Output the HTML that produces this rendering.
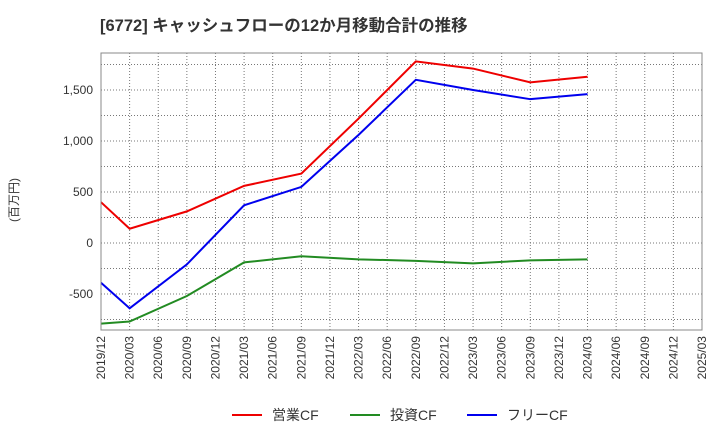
<!DOCTYPE html>
<html><head><meta charset="utf-8"><style>
body{margin:0;background:#fff;}
svg text{font-family:"Liberation Sans","Noto Sans CJK JP",sans-serif;}
</style></head><body>
<svg width="720" height="440" xmlns="http://www.w3.org/2000/svg">
<text x="100" y="31" font-size="16.5" font-weight="bold" fill="#333">[6772]  キャッシュフローの12か月移動合計の推移</text>
<text x="18" y="200" font-size="12" fill="#333" transform="rotate(-90 18 200)" text-anchor="middle">(百万円)</text>
<g id="grid"></g><g id="axes"></g><g id="series"></g>
<rect x="101" y="53" width="601" height="277" fill="none" stroke="#888"/>
<g>
<line x1="232" y1="415" x2="262" y2="415" stroke="#e00" stroke-width="2"/><text x="272" y="420" font-size="14" fill="#333">営業CF</text>
<line x1="350" y1="415" x2="380" y2="415" stroke="#228B22" stroke-width="2"/><text x="390" y="420" font-size="14" fill="#333">投資CF</text>
<line x1="467" y1="415" x2="497" y2="415" stroke="#00e" stroke-width="2"/><text x="507" y="420" font-size="14" fill="#333">フリーCF</text>
</g>
</svg>
<script>
const xLabels=["2019/12","2020/03","2020/06","2020/09","2020/12","2021/03","2021/06","2021/09","2021/12","2022/03","2022/06","2022/09","2022/12","2023/03","2023/06","2023/09","2023/12","2024/03","2024/06","2024/09","2024/12","2025/03"];
const yTicks=[-500,0,500,1000,1500];
const pointIdx=[0,1,3,5,7,9,11,13,15,17];
const operating=[400,140,310,560,680,1220,1780,1710,1575,1630];
const investing=[-790,-770,-520,-190,-130,-160,-175,-200,-170,-160];
const free=[-390,-640,-210,370,550,1060,1600,1500,1410,1460];
const NS="http://www.w3.org/2000/svg";
const x=i=>101+i*(601/21);
const y=v=>243-v*51/500;
const fmt=v=>v.toLocaleString('en-US');
const grid=document.getElementById('grid'),axes=document.getElementById('axes'),ser=document.getElementById('series');
function mk(tag,attrs,parent){const e=document.createElementNS(NS,tag);for(const k in attrs)e.setAttribute(k,attrs[k]);parent.appendChild(e);return e;}
xLabels.forEach((l,i)=>{
 const g=mk('line',{x1:x(i),x2:x(i),y1:53,y2:330,stroke:'#777','stroke-dasharray':'1,2'},grid);
 
 
 const t=mk('text',{x:0,y:0,'font-size':12,fill:'#333','text-anchor':'end',transform:`translate(${x(i)+4},336) rotate(-90)`},axes);
 t.textContent=l;
 
 
});
for(let v=-750;v<=1750;v+=250){
 const g=mk('line',{x1:101,x2:702,y1:y(v),y2:y(v),stroke:'#777','stroke-dasharray':'1,2'},grid);
 
 
}
yTicks.forEach(v=>{
 const t=mk('text',{x:93,y:y(v)+4,'font-size':12,fill:'#333','text-anchor':'end'},axes);
 t.textContent=fmt(v);
 
 
});
[[operating,'#e00','operating-cf-line'],[investing,'#228B22','investing-cf-line'],[free,'#00e','free-cf-line']].forEach(([d,c,n])=>{
 const p=mk('polyline',{points:d.map((v,k)=>x(pointIdx[k])+','+y(v)).join(' '),fill:'none',stroke:c,'stroke-width':2},ser);
 
 
});
</script>
</body></html>
